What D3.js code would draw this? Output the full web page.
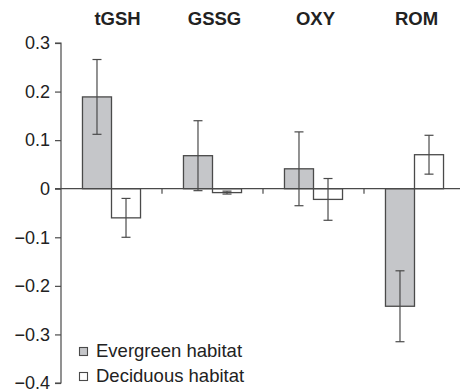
<!DOCTYPE html>
<html><head><meta charset="utf-8">
<script src="https://cdnjs.cloudflare.com/ajax/libs/d3/7.8.5/d3.min.js"></script>
<style>html,body{margin:0;padding:0;background:#fff;}svg{display:block;}</style>
</head><body><div id="chart"></div>
<script>
const categories = ["tGSH", "GSSG", "OXY", "ROM"];
const seriesNames = ["Evergreen habitat", "Deciduous habitat"];
const evergreen = [0.189, 0.068, 0.041, -0.242];
const evergreenErr = [0.077, 0.072, 0.076, 0.073];
const deciduous = [-0.060, -0.008, -0.022, 0.070];
const deciduousErr = [0.040, 0.003, 0.043, 0.040];
const yTicks = [0.3, 0.2, 0.1, 0, -0.1, -0.2, -0.3, -0.4];
const yTickLabels = ["0.3", "0.2", "0.1", "0", "\u22120.1", "\u22120.2", "\u22120.3", "\u22120.4"];

const W = 460, H = 392;
const fills = ["#c5c6c9", "#ffffff"];
const ink = "#4a4a4a";
const font = "Liberation Sans, Arial, Helvetica, sans-serif";

const svg = d3.select("#chart").append("svg").attr("width", W).attr("height", H);

const y = d3.scaleLinear().domain([-0.4, 0.3]).range([383, 43]);
const x = d3.scaleBand().domain(categories).range([61, 465]).paddingInner(0).paddingOuter(0);
const xs = d3.scaleBand().domain([0, 1]).range([0, x.bandwidth()]).paddingOuter(0.74).paddingInner(0);

// y axis
const yAxis = d3.axisLeft(y).tickValues(yTicks).tickSize(6).tickPadding(5)
  .tickFormat((d, i) => yTickLabels[i]);
const ga = svg.append("g").attr("transform", "translate(61,0)").call(yAxis);
ga.select(".domain").attr("stroke", ink).attr("stroke-width", 1.2).attr("d", `M-6,${y(0.3)}H0V${y(-0.4)}H-6`);
ga.selectAll(".tick line").attr("stroke", ink).attr("stroke-width", 1.2);
ga.selectAll(".tick text").attr("fill", "#222").attr("font-size", 18).attr("font-family", font);

// category labels
svg.append("g").selectAll("text").data(categories).join("text")
  .attr("x", d => x(d) + x.bandwidth() / 2 + (d === "tGSH" ? 6 : 2))
  .attr("y", 25)
  .attr("text-anchor", "middle")
  .attr("font-family", font).attr("font-weight", "bold").attr("font-size", 18.5).attr("fill", "#222")
  .text(d => d);

const series = [evergreen, deciduous];
const errs = [evergreenErr, deciduousErr];

const bars = svg.append("g");
series.forEach((vals, s) => {
  bars.selectAll(null).data(categories).join("rect")
    .attr("x", d => x(d) + xs(s))
    .attr("width", xs.bandwidth())
    .attr("y", (d, i) => y(Math.max(0, vals[i])))
    .attr("height", (d, i) => Math.abs(y(vals[i]) - y(0)))
    .attr("fill", fills[s]).attr("stroke", ink).attr("stroke-width", 1.3);
});

// zero line with category ticks
const xAxis = d3.axisBottom(x).tickValues(categories.slice(1)).tickSize(5).tickFormat("");
const gx = svg.append("g").attr("transform", `translate(0,${y(0)})`).call(xAxis);
gx.select(".domain").attr("stroke", ink).attr("stroke-width", 1.2).attr("d", `M55,0H${W}`);
gx.selectAll(".tick").attr("transform", d => `translate(${x(d)},0)`);
gx.selectAll(".tick line").attr("stroke", ink).attr("stroke-width", 1.2);

// error bars
const eg = svg.append("g").attr("stroke", ink).attr("stroke-width", 1.2);
series.forEach((vals, s) => {
  categories.forEach((c, i) => {
    const cx = x(c) + xs(s) + xs.bandwidth() / 2;
    const hi = y(vals[i] + errs[s][i]), lo = y(vals[i] - errs[s][i]);
    eg.append("line").attr("x1", cx).attr("x2", cx).attr("y1", hi).attr("y2", lo);
    eg.append("line").attr("x1", cx - 4.5).attr("x2", cx + 4.5).attr("y1", hi).attr("y2", hi);
    eg.append("line").attr("x1", cx - 4.5).attr("x2", cx + 4.5).attr("y1", lo).attr("y2", lo);
  });
});

// legend
const lg = svg.append("g");
seriesNames.forEach((n, s) => {
  const yy = 347 + s * 25;
  lg.append("rect").attr("x", 79.5).attr("y", yy + 0.5).attr("width", 8).attr("height", 8)
    .attr("fill", fills[s]).attr("stroke", ink).attr("stroke-width", 1.1);
  lg.append("text").attr("x", 96).attr("y", yy + 10)
    .attr("font-family", font).attr("font-size", 18.5).attr("fill", "#222").text(n);
});
</script></body></html>
